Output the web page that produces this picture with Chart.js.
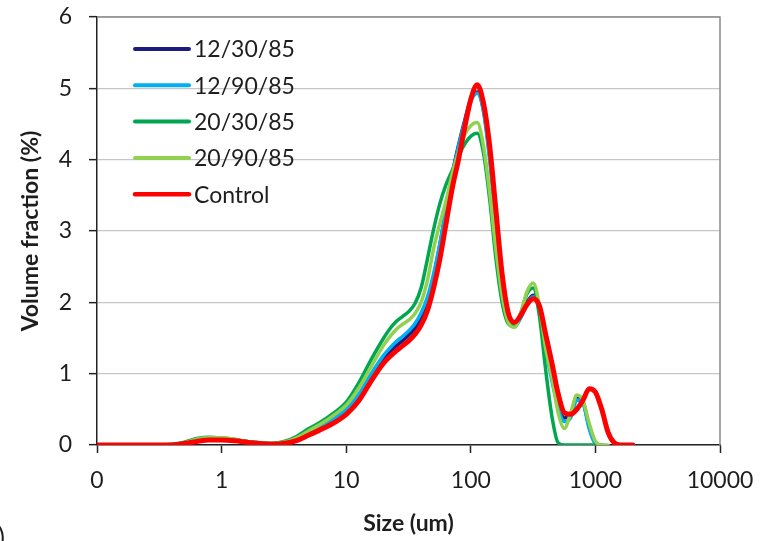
<!DOCTYPE html>
<html>
<head>
<meta charset="utf-8">
<script src="https://cdn.jsdelivr.net/npm/chart.js@4.4.0/dist/chart.umd.min.js"></script>
<style>
  html, body { margin: 0; padding: 0; background: #fff; }
  #wrap { width: 760px; height: 541px; position: relative; }
</style>
</head>
<body>
<div id="wrap"><canvas id="c" width="760" height="541"></canvas></div>
<script>
// Particle size classes (um), log-spaced
const sizes = [
  0.1, 0.126, 0.159, 0.2, 0.252, 0.317, 0.399, 0.502, 0.632, 0.796,
  1.0, 1.262, 1.589, 2.0, 2.518, 3.17, 3.991, 5.024, 6.325, 7.962,
  10.02, 12.62, 15.89, 20.0, 22.44, 25.18, 28.25, 31.7, 35.57, 39.9,
  44.77, 50.24, 56.37, 63.25, 70.96, 79.62, 89.34, 100.2, 112.5, 126.2,
  141.6, 158.9, 178.3, 200, 224.4, 251.8, 282.5, 317, 355.7, 399.1,
  447.7, 502.4, 563.7, 632.5, 709.6, 796.2, 893.4, 1002, 1125, 1262,
  1416, 1589, 1783, 2000
];

// Volume fraction (%) per size class
const vol_12_30_85 = [
  0, 0, 0, 0, 0, 0, 0, 0.03, 0.07, 0.09,
  0.09, 0.07, 0.05, 0.03, 0.02, 0.03, 0.08, 0.16, 0.25, 0.35,
  0.48, 0.68, 0.97, 1.22, 1.31, 1.39, 1.46, 1.54, 1.63, 1.78,
  2.0, 2.35, 2.8, 3.3, 3.8, 4.2, 4.55, 4.85, 4.95, 4.7,
  4.05, 3.15, 2.3, 1.8, 1.68, 1.8, 2.0, 2.1, 1.9, 1.4,
  0.95, 0.58, 0.38, 0.42, 0.66, 0.6, 0.25, 0.02, 0, null,
  null, null, null, null
];
const vol_12_90_85 = [
  0, 0, 0, 0, 0, 0, 0, 0.03, 0.07, 0.09,
  0.09, 0.07, 0.05, 0.03, 0.02, 0.03, 0.08, 0.17, 0.26, 0.37,
  0.5, 0.71, 1.0, 1.26, 1.36, 1.45, 1.52, 1.6, 1.7, 1.85,
  2.07, 2.4, 2.82, 3.3, 3.78, 4.18, 4.52, 4.82, 4.93, 4.68,
  4.0, 3.1, 2.27, 1.77, 1.66, 1.78, 1.98, 2.08, 1.88, 1.35,
  0.9, 0.52, 0.33, 0.38, 0.63, 0.58, 0.22, 0.02, 0, null,
  null, null, null, null
];
const vol_20_30_85 = [
  0, 0, 0, 0, 0, 0, 0.01, 0.04, 0.09, 0.11,
  0.1, 0.08, 0.05, 0.03, 0.02, 0.05, 0.12, 0.23, 0.33, 0.45,
  0.6, 0.87, 1.2, 1.5, 1.63, 1.73, 1.8, 1.87, 1.98, 2.2,
  2.6, 3.02, 3.38, 3.65, 3.85, 4.05, 4.22, 4.33, 4.37, 4.1,
  3.45, 2.62, 2.0, 1.7, 1.66, 1.85, 2.12, 2.2, 1.8, 1.05,
  0.4, 0.03, 0, 0, 0, 0, 0, 0, null, null,
  null, null, null, null
];
const vol_20_90_85 = [
  0, 0, 0, 0, 0, 0, 0, 0.03, 0.08, 0.1,
  0.1, 0.08, 0.05, 0.03, 0.02, 0.04, 0.1, 0.2, 0.3, 0.42,
  0.56, 0.8, 1.1, 1.4, 1.52, 1.62, 1.69, 1.75, 1.84, 2.0,
  2.3, 2.75, 3.1, 3.42, 3.8, 4.1, 4.35, 4.48, 4.52, 4.2,
  3.55, 2.75, 2.1, 1.72, 1.65, 1.85, 2.15, 2.27, 1.95, 1.35,
  0.95, 0.45, 0.23, 0.45, 0.7, 0.62, 0.3, 0.05, 0, 0,
  null, null, null, null
];
const vol_control = [
  0, 0, 0, 0, 0, 0, 0, 0.02, 0.05, 0.07,
  0.07, 0.06, 0.04, 0.02, 0.01, 0.02, 0.06, 0.14, 0.22, 0.31,
  0.43, 0.62, 0.9, 1.15, 1.24, 1.32, 1.39, 1.46, 1.55, 1.68,
  1.88, 2.2, 2.6, 3.1, 3.6, 4.0, 4.45, 4.85, 5.05, 4.8,
  4.2, 3.3, 2.4, 1.85, 1.72, 1.82, 1.97, 2.05, 1.95, 1.55,
  1.15, 0.72, 0.45, 0.43, 0.5, 0.63, 0.79, 0.74, 0.5, 0.18,
  0.03, 0, 0, 0
];

const seriesNames = ['12/30/85', '12/90/85', '20/30/85', '20/90/85', 'Control'];
const xTickValues = [0.1, 1, 10, 100, 1000, 10000];
const xTickLabels = ['0', '1', '10', '100', '1000', '10000'];
const yTickValues = [0, 1, 2, 3, 4, 5, 6];

const seriesValues = [vol_12_30_85, vol_12_90_85, vol_20_30_85, vol_20_90_85, vol_control];
const seriesColors = ['#1c1c80', '#00b0f0', '#00a650', '#92d050', '#ff0000'];
const seriesWidths = [3.5, 3.5, 3.5, 3.5, 5];
// Control on top, lighter greens above darker lines
const seriesOrder = [4, 3, 2, 1, 0];

const FONT = 'Lato, "Open Sans", sans-serif';
const TEXT = '#1e1e1e';

const datasets = seriesNames.map((name, i) => ({
  label: name,
  data: sizes.map((s, k) => ({ x: s, y: seriesValues[i][k] })),
  borderColor: seriesColors[i],
  backgroundColor: seriesColors[i],
  borderWidth: seriesWidths[i],
  pointRadius: 0,
  fill: false,
  cubicInterpolationMode: 'monotone',
  spanGaps: false,
  order: seriesOrder[i],
  borderCapStyle: 'round',
  borderJoinStyle: 'round'
}));

// Gray frame on the top and right of the plot area
const plotFrame = {
  id: 'plotFrame',
  beforeDatasetsDraw(chart) {
    const { ctx, chartArea: a } = chart;
    ctx.save();
    ctx.strokeStyle = '#8a8a8a';
    ctx.lineWidth = 1.5;
    ctx.beginPath();
    ctx.moveTo(a.left, a.top);
    ctx.lineTo(a.right, a.top);
    ctx.lineTo(a.right, a.bottom);
    ctx.stroke();
    ctx.restore();
  }
};

// Legend drawn inside the plot, top-left
const insideLegend = {
  id: 'insideLegend',
  afterDatasetsDraw(chart) {
    const { ctx, chartArea: a } = chart;
    ctx.save();
    ctx.font = '23px ' + FONT;
    ctx.textBaseline = 'middle';
    ctx.textAlign = 'left';
    const x0 = a.left + 38, x1 = a.left + 92, tx = a.left + 97;
    chart.data.datasets.forEach((ds, i) => {
      const y = a.top + 32 + i * 36.3;
      ctx.strokeStyle = ds.borderColor;
      ctx.lineWidth = i === 4 ? 4.5 : 4;
      ctx.lineCap = 'round';
      ctx.beginPath();
      ctx.moveTo(x0, y);
      ctx.lineTo(x1, y);
      ctx.stroke();
      ctx.fillStyle = TEXT;
      ctx.fillText(ds.label, tx, y + 1);
    });
    ctx.restore();
  },
  afterDraw(chart) {
    const { ctx } = chart;
    ctx.save();
    ctx.font = '26px ' + FONT;
    ctx.fillStyle = TEXT;
    ctx.textBaseline = 'alphabetic';
    ctx.fillText(')', -2, 547);
    ctx.restore();
  }
};

new Chart(document.getElementById('c'), {
  type: 'line',
  data: { datasets },
  plugins: [plotFrame, insideLegend],
  options: {
    responsive: false,
    devicePixelRatio: 1,
    animation: false,
    parsing: true,
    layout: { padding: { left: 0, top: 17, right: 40, bottom: 0 } },
    plugins: {
      legend: { display: false },
      tooltip: { enabled: false }
    },
    scales: {
      x: {
        type: 'logarithmic',
        position: 'bottom',
        min: xTickValues[0],
        max: xTickValues[xTickValues.length - 1],
        afterBuildTicks(scale) {
          scale.ticks = xTickValues.map(v => ({ value: v, major: true }));
        },
        afterFit(scale) {
          scale.height = 96;
          scale.paddingLeft = 0;
          scale.paddingRight = 0;
        },
        ticks: {
          autoSkip: false,
          maxRotation: 0,
          minRotation: 0,
          padding: 14,
          color: TEXT,
          font: { family: FONT, size: 23 },
          callback: (v) => {
            const i = xTickValues.findIndex(t => Math.abs(Math.log10(t) - Math.log10(v)) < 1e-6);
            return i >= 0 ? xTickLabels[i] : '';
          }
        },
        grid: {
          drawOnChartArea: false,
          drawTicks: true,
          tickLength: 8,
          tickColor: '#222',
          tickWidth: 1.5
        },
        border: { display: true, color: '#222', width: 1.5 },
        title: {
          display: true,
          text: 'Size (um)',
          color: TEXT,
          font: { family: FONT, size: 23, weight: 'bold' },
          padding: { top: 0, bottom: 4 }
        }
      },
      y: {
        type: 'linear',
        position: 'left',
        min: 0,
        max: 6,
        afterBuildTicks(scale) {
          scale.ticks = yTickValues.map(v => ({ value: v }));
        },
        afterFit(scale) {
          scale.width = 97;
          scale.paddingTop = 0;
          scale.paddingBottom = 0;
        },
        ticks: {
          padding: 17,
          color: TEXT,
          font: { family: FONT, size: 23 }
        },
        grid: {
          color: '#c6c6c6',
          lineWidth: 1.3,
          drawTicks: true,
          tickLength: 8,
          tickColor: '#222',
          tickWidth: 1.5
        },
        border: { display: true, color: '#222', width: 1.5 },
        title: {
          display: true,
          text: 'Volume fraction (%)',
          color: TEXT,
          font: { family: FONT, size: 23, weight: 'bold' },
          padding: { top: 17, bottom: 0 }
        }
      }
    }
  }
});
</script>
</body>
</html>
